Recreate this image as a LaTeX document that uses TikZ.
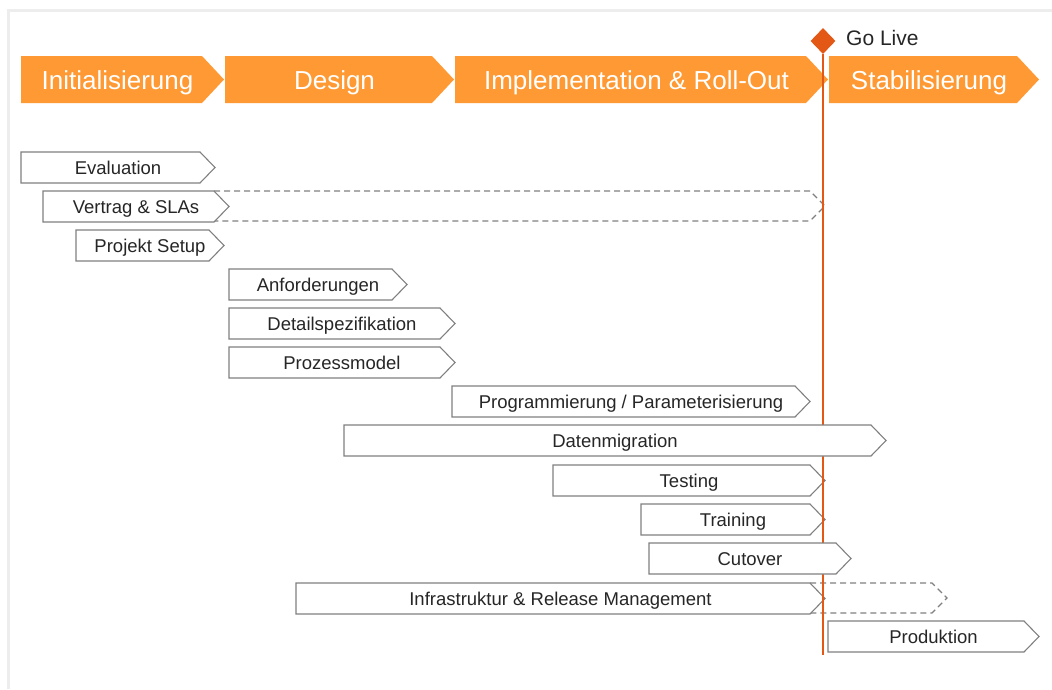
\documentclass[tikz,border=0pt]{standalone}
\usepackage{fontspec}
\setmainfont{Liberation Sans}
\usetikzlibrary{shapes.geometric}

\definecolor{phaseorange}{RGB}{255,153,51}
\definecolor{golivered}{RGB}{228,88,22}
\definecolor{taskgray}{RGB}{128,128,128}
\definecolor{taskink}{RGB}{38,38,38}

\tikzset{
  phasebar/.style={fill=phaseorange},
  phasetext/.style={text=white,font=\fontsize{26}{28}\selectfont,inner sep=0pt,anchor=base},
  taskbar/.style={draw=taskgray,fill=white,line width=1.1pt},
  taskext/.style={draw=taskgray,line width=1.1pt,dash pattern=on 6pt off 4pt},
  tasktext/.style={text=taskink,font=\fontsize{18.5}{20}\selectfont,inner sep=0pt,anchor=base},
}

\begin{document}
\begin{tikzpicture}[x=1pt,y=-1pt]
  \useasboundingbox (0,0) rectangle (1052,689);
  % faint frame, only top and left edges show
  \draw[black!7,line width=3pt] (8,689) -- (8,10) -- (1052,10);

  % phases: left edge / tip
  \foreach \name/\lx/\px/\txt in {init/21/224/Initialisierung,
      design/225/454/Design,
      impl/455/828/Implementation \& Roll-Out,
      stab/829/1039/Stabilisierung} {
    \fill[phasebar] (\lx,56) -- (\px-22,56) -- (\px,79.5) -- (\px-22,103) -- (\lx,103) -- cycle;
    \node[phasetext] (\name) at ({(\lx+\px)/2-5},89.3) {\txt};
  }

  % dashed tails run on behind their bars
  \draw[taskext] (214,191) -- (810,191) -- (825,206) -- (810,221) -- (117,221);
  \draw[taskext] (810,583) -- (932,583) -- (947,598) -- (932,613) -- (747,613);

  % tasks: left edge / tip / top
  \foreach \name/\lx/\px/\ty/\txt in {eval/21/215/152/Evaluation,
      vertrag/43/229/191/Vertrag \& SLAs,
      setup/76/224/230/Projekt Setup,
      anf/229/407/269/Anforderungen,
      detail/229/455/308/Detailspezifikation,
      prozess/229/455/347/Prozessmodel,
      prog/452/810/386/{Programmierung / Parameterisierung},
      test/553/825/465/Testing,
      train/641/825/504/Training,
      infra/296/825/583/Infrastruktur \& Release Management,
      prod/828/1039/621/Produktion} {
    \draw[taskbar] (\lx,\ty) -- (\px-15,\ty) -- (\px,\ty+15.5) -- (\px-15,\ty+31) -- (\lx,\ty+31) -- cycle;
    \node[tasktext] (\name) at ({(\lx+\px)/2},\ty+22.1) {\txt};
  }

  % go-live milestone
  \node[diamond,fill=golivered,inner sep=0pt,minimum width=25pt,minimum height=26pt] (golive) at (823,41) {};
  \node[text=taskink,font=\fontsize{21}{24}\selectfont,inner sep=0pt,anchor=base west] (golivelabel) at (846,45) {Go Live};
  \coordinate (liveend) at (823,655);
  \draw[golivered,line width=1.3pt] (golive.south) -- (liveend);

  % these two bars lie over the milestone line
  \foreach \name/\lx/\px/\ty/\txt in {daten/344/886/425/Datenmigration,
      cut/649/851/543/Cutover} {
    \draw[taskbar] (\lx,\ty) -- (\px-15,\ty) -- (\px,\ty+15.5) -- (\px-15,\ty+31) -- (\lx,\ty+31) -- cycle;
    \node[tasktext] (\name) at ({(\lx+\px)/2},\ty+22.1) {\txt};
  }
\end{tikzpicture}
\end{document}
